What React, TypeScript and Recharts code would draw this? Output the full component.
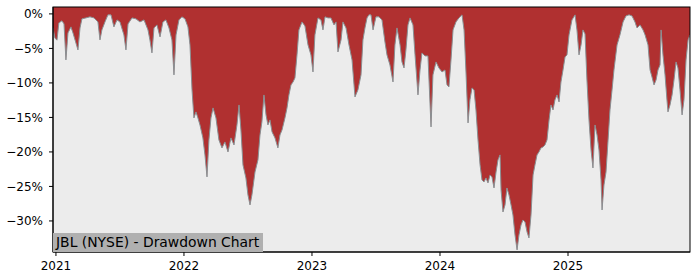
import React from 'react';
import { AreaChart, Area, XAxis, YAxis, CartesianGrid } from 'recharts';

// decimal year positions of the samples
const dates: number[] = [
  2020.977, 2020.992, 2021.008, 2021.023, 2021.047, 2021.063, 2021.078, 2021.094, 2021.117, 2021.133,
  2021.156, 2021.172, 2021.188, 2021.203, 2021.234, 2021.266, 2021.297, 2021.328, 2021.344, 2021.359,
  2021.383, 2021.406, 2021.430, 2021.453, 2021.477, 2021.500, 2021.531, 2021.547, 2021.563, 2021.594,
  2021.625, 2021.656, 2021.688, 2021.719, 2021.734, 2021.750, 2021.766, 2021.789, 2021.813, 2021.836,
  2021.859, 2021.883, 2021.906, 2021.922, 2021.938, 2021.961, 2021.984, 2022.008, 2022.031, 2022.047,
  2022.063, 2022.078, 2022.094, 2022.109, 2022.125, 2022.148, 2022.164, 2022.180, 2022.195, 2022.211,
  2022.227, 2022.250, 2022.273, 2022.297, 2022.320, 2022.344, 2022.367, 2022.391, 2022.414, 2022.430,
  2022.445, 2022.461, 2022.484, 2022.500, 2022.516, 2022.531, 2022.555, 2022.578, 2022.594, 2022.609,
  2022.625, 2022.641, 2022.656, 2022.672, 2022.688, 2022.711, 2022.734, 2022.750, 2022.766, 2022.789,
  2022.805, 2022.820, 2022.836, 2022.852, 2022.867, 2022.883, 2022.898, 2022.922, 2022.945, 2022.969,
  2022.992, 2023.008, 2023.023, 2023.047, 2023.070, 2023.086, 2023.102, 2023.125, 2023.148, 2023.172,
  2023.188, 2023.203, 2023.227, 2023.242, 2023.266, 2023.289, 2023.313, 2023.336, 2023.359, 2023.383,
  2023.398, 2023.414, 2023.430, 2023.445, 2023.461, 2023.477, 2023.500, 2023.523, 2023.547, 2023.570,
  2023.586, 2023.609, 2023.633, 2023.648, 2023.664, 2023.688, 2023.703, 2023.719, 2023.734, 2023.750,
  2023.766, 2023.789, 2023.805, 2023.828, 2023.844, 2023.859, 2023.883, 2023.906, 2023.930, 2023.945,
  2023.969, 2023.992, 2024.016, 2024.039, 2024.055, 2024.070, 2024.086, 2024.102, 2024.125, 2024.148,
  2024.172, 2024.188, 2024.203, 2024.219, 2024.234, 2024.250, 2024.266, 2024.281, 2024.297, 2024.313,
  2024.328, 2024.344, 2024.359, 2024.375, 2024.391, 2024.406, 2024.422, 2024.438, 2024.453, 2024.469,
  2024.477, 2024.492, 2024.508, 2024.523, 2024.539, 2024.555, 2024.570, 2024.586, 2024.602, 2024.617,
  2024.633, 2024.648, 2024.664, 2024.680, 2024.695, 2024.711, 2024.727, 2024.742, 2024.758, 2024.773,
  2024.789, 2024.805, 2024.820, 2024.836, 2024.852, 2024.867, 2024.883, 2024.898, 2024.914, 2024.930,
  2024.945, 2024.961, 2024.977, 2024.992, 2025.008, 2025.031, 2025.055, 2025.070, 2025.086, 2025.102,
  2025.117, 2025.133, 2025.148, 2025.164, 2025.180, 2025.195, 2025.211, 2025.227, 2025.242, 2025.258,
  2025.266, 2025.281, 2025.297, 2025.313, 2025.328, 2025.344, 2025.359, 2025.383, 2025.406, 2025.430,
  2025.453, 2025.477, 2025.500, 2025.523, 2025.539, 2025.563, 2025.586, 2025.602, 2025.625, 2025.641,
  2025.656, 2025.672, 2025.688, 2025.703, 2025.719, 2025.727, 2025.742, 2025.758, 2025.773, 2025.781,
  2025.797, 2025.813, 2025.828, 2025.844, 2025.859, 2025.875, 2025.891, 2025.906, 2025.922, 2025.938,
  2025.953,
];

// drawdown in percent
const drawdown: number[] = [
  -2.0, -3.5, -3.8, -1.3, -1.0, -1.45, -6.67, -2.75, -1.88, -2.75,
  -4.2, -5.22, -2.03, -0.72, -0.58, -0.43, -0.58, -1.16, -3.77, -2.32,
  -1.16, -0.14, -0.14, -1.88, -0.87, -1.16, -3.04, -5.22, -1.45, -0.58,
  -0.72, -1.16, -0.87, -2.32, -3.77, -5.65, -2.03, -1.59, -3.33, -1.16,
  -0.87, -2.03, -3.77, -8.84, -3.04, -0.87, -0.43, -0.72, -1.88, -4.49,
  -11.01, -15.07, -14.2, -15.07, -16.09, -17.97, -20.43, -23.62, -18.26, -15.07,
  -13.62, -15.07, -18.26, -19.42, -18.55, -20.0, -17.97, -18.99, -16.09, -13.19,
  -16.81, -21.88, -23.77, -26.23, -27.68, -26.23, -22.9, -21.16, -17.54, -15.65,
  -11.74, -14.64, -16.09, -15.36, -17.1, -17.97, -19.42, -17.54, -16.81, -15.07,
  -13.62, -11.74, -10.29, -9.86, -9.28, -5.94, -2.32, -1.16, -1.74, -4.49,
  -5.94, -8.41, -3.04, -0.58, -0.87, -2.32, -0.43, -0.58, -0.58, -1.59,
  -1.16, -5.51, -3.77, -1.16, -2.03, -4.49, -6.67, -12.03, -11.01, -8.84,
  -3.77, -2.03, -0.58, -0.14, -0.14, -2.32, -0.43, -0.43, -0.87, -4.06,
  -5.94, -7.39, -9.86, -4.49, -2.03, -4.49, -6.96, -7.83, -5.22, -1.59,
  -0.58, -1.59, -5.94, -11.74, -8.12, -5.65, -6.09, -6.09, -16.38, -8.84,
  -6.96, -7.83, -8.41, -8.12, -10.29, -10.58, -6.67, -2.32, -1.16, -0.58,
  -0.14, -2.32, -8.41, -15.8, -12.46, -10.72, -11.01, -13.91, -18.26, -21.88,
  -24.06, -24.35, -23.77, -24.49, -23.33, -23.62, -25.22, -22.9, -21.16, -20.43,
  -25.51, -28.7, -27.68, -25.22, -26.23, -27.68, -29.13, -32.03, -34.2, -32.03,
  -30.58, -29.86, -30.14, -31.59, -32.46, -29.13, -23.33, -21.88, -20.43, -20.0,
  -19.42, -19.28, -18.99, -18.26, -15.36, -13.19, -13.91, -12.46, -11.74, -12.75,
  -9.86, -8.12, -6.23, -5.94, -3.04, -0.87, -0.14, -2.32, -5.94, -4.49,
  -2.32, -2.9, -9.57, -15.36, -19.71, -22.32, -16.09, -17.54, -19.71, -24.06,
  -28.41, -24.78, -22.9, -18.26, -13.91, -11.01, -8.12, -4.49, -3.04, -1.16,
  -0.29, -0.14, -0.29, -1.16, -2.03, -1.59, -2.32, -3.04, -4.49, -8.12,
  -9.13, -10.29, -9.57, -8.12, -7.39, -2.32, -5.94, -8.84, -12.46, -14.2,
  -13.19, -11.74, -9.57, -6.96, -7.83, -11.01, -14.64, -12.46, -6.67, -3.77,
  -3.04,
];

const yearTicks: number[] = [2021, 2022, 2023, 2024, 2025];
const pctTicks: number[] = [0, -5, -10, -15, -20, -25, -30];
const chartLabel = 'JBL (NYSE) - Drawdown Chart';

const data = dates.map((t, i) => ({ t, dd: drawdown[i] }));

const X_DOMAIN: [number, number] = [2020.977, 2025.953];
const Y_DOMAIN: [number, number] = [-34.5, 1];
const FONT = '"DejaVu Sans", sans-serif';

const fmtPct = (v: number) => (v === 0 ? '0%' : `\u2212${Math.abs(v)}%`);

export default function App() {
  return (
    <div style={{ position: 'absolute', left: 0, top: 0, width: 700, height: 280, background: '#fff' }}>
      <AreaChart
        width={700}
        height={280}
        data={data}
        margin={{ top: 7, right: 10, bottom: 0, left: 0 }}
        baseValue="dataMax"
      >
        <CartesianGrid fill="#ececec" horizontal={false} vertical={false} />
        <XAxis
          dataKey="t"
          type="number"
          domain={X_DOMAIN}
          allowDataOverflow
          ticks={yearTicks}
          tickFormatter={(v: number) => String(Math.round(v))}
          height={28}
          tickSize={4}
          tickMargin={5}
          axisLine={{ stroke: '#000', strokeWidth: 1 }}
          tickLine={{ stroke: '#000' }}
          tick={{ fill: '#000', fontSize: 12, fontFamily: FONT }}
        />
        <YAxis
          type="number"
          domain={Y_DOMAIN}
          allowDataOverflow
          ticks={pctTicks}
          tickFormatter={fmtPct}
          width={53}
          tickSize={4}
          tickMargin={6}
          axisLine={{ stroke: '#000', strokeWidth: 1 }}
          tickLine={{ stroke: '#000' }}
          tick={{ fill: '#000', fontSize: 12, fontFamily: FONT }}
        />
        <Area
          type="linear"
          dataKey="dd"
          baseValue="dataMax"
          fill="#b03030"
          fillOpacity={1}
          stroke="#8a8f92"
          strokeWidth={1}
          isAnimationActive={false}
          dot={false}
          activeDot={false}
        />
      </AreaChart>
      <svg
        width={700}
        height={280}
        style={{ position: 'absolute', left: 0, top: 0, pointerEvents: 'none' }}
      >
        <rect x={53} y={7} width={637} height={245} fill="none" stroke="#000" strokeWidth={1} />
      </svg>
      <div
        style={{
          position: 'absolute',
          left: 53,
          top: 233,
          height: 19,
          lineHeight: '19px',
          padding: '0 4px 0 3px',
          background: '#b0b0b0',
          color: '#000',
          fontFamily: FONT,
          fontSize: 13.9,
          whiteSpace: 'nowrap',
        }}
      >
        {chartLabel}
      </div>
    </div>
  );
}
